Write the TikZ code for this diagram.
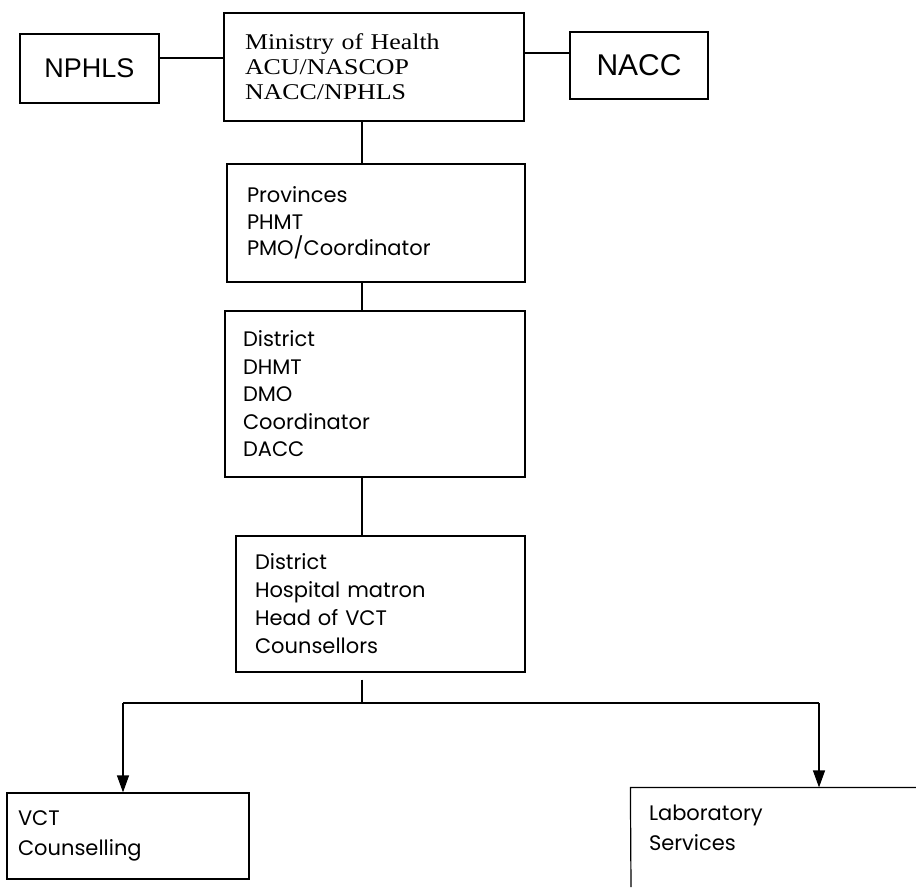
\documentclass[tikz,border=0pt]{standalone}
\usepackage{fontspec}
\setmainfont{Poppins}
\newfontfamily\minfont[FakeStretch=1.15]{Liberation Serif}
\newfontfamily\capfont{Liberation Sans}
\usetikzlibrary{arrows.meta}
\begin{document}
\begin{tikzpicture}[x=1pt,y=-1pt,
  line/.style={line width=1.2pt, black},
  arrowline/.style={line, -{Triangle[length=17pt,width=12pt]}},
  box/.style={draw, line width=1.2pt, rectangle, inner ysep=0pt, align=left,
    font=\fontsize{21}{27}\selectfont},
  capbox/.style={draw, line width=1.2pt, rectangle, inner sep=0pt, align=center},
]
\useasboundingbox (0,0) rectangle (916,887);

% top row
\node[capbox, minimum width=139pt, minimum height=69pt, font=\capfont\fontsize{27}{30}\selectfont] (nphls) at (89.5,68.5) {NPHLS};
\node[box, minimum width=300pt, minimum height=108pt, text width=258pt, inner xsep=21pt,
      font=\minfont\fontsize{22.5}{25}\selectfont] (ministry) at (374,67)
  {Ministry of Health\\ACU/NASCOP\\NACC/NPHLS};
\node[capbox, minimum width=138pt, minimum height=67pt, font=\capfont\fontsize{30}{32}\selectfont] (nacc) at (639,65.5) {NACC};

% chain
\node[box, minimum width=298pt, minimum height=118pt, text width=258pt, inner xsep=20pt,
      font=\fontsize{21}{26.5}\selectfont] (prov) at (376,223)
  {Provinces\\PHMT\\PMO/Coordinator};
\node[box, minimum width=300pt, minimum height=166pt, text width=264pt, inner xsep=18pt,
      font=\fontsize{21}{27.5}\selectfont] (district) at (375,394)
  {District\\DHMT\\DMO\\Coordinator\\DACC};
\node[box, minimum width=289pt, minimum height=136pt, text width=251pt, inner xsep=19pt,
      font=\fontsize{21}{28}\selectfont] (hosp) at (380.5,604)
  {District\\Hospital matron\\Head of VCT\\Counsellors};

% bottom row
\node[box, minimum width=242pt, minimum height=86pt, text width=220pt, inner xsep=11pt,
      font=\fontsize{21}{30}\selectfont] (vct) at (128,836)
  {VCT\\Counselling};
\node[box, draw=none, minimum width=285pt, minimum height=80pt, text width=249pt, inner xsep=18pt,
      font=\fontsize{21}{30}\selectfont] (lab) at (773.5,828)
  {Laboratory\\Services};
\coordinate (labbottom) at (631,887);
\draw[line] (labbottom) -- (lab.north west) -- (lab.north east);

% helper coordinates
\coordinate (spine) at (362,0);
\coordinate (rowA) at (0,58);
\coordinate (rowB) at (0,53);
\coordinate (split) at (362,703);
\coordinate (ldrop) at (123,703);
\coordinate (rdrop) at (819,703);

% connectors
\draw[line] (nphls.east |- rowA) -- (ministry.west |- rowA);
\draw[line] (ministry.east |- rowB) -- (nacc.west |- rowB);
\draw[line] (ministry.south -| spine) -- (prov.north -| spine);
\draw[line] (prov.south -| spine) -- (district.north -| spine);
\draw[line] (district.south -| spine) -- (hosp.north -| spine);
\draw[line] ([yshift=-7pt]hosp.south -| spine) -- (split);
\draw[line] (ldrop) -- (rdrop);
\draw[arrowline] (ldrop) -- (ldrop |- vct.north);
\draw[arrowline] (rdrop) -- (rdrop |- lab.north);
\end{tikzpicture}
\end{document}
